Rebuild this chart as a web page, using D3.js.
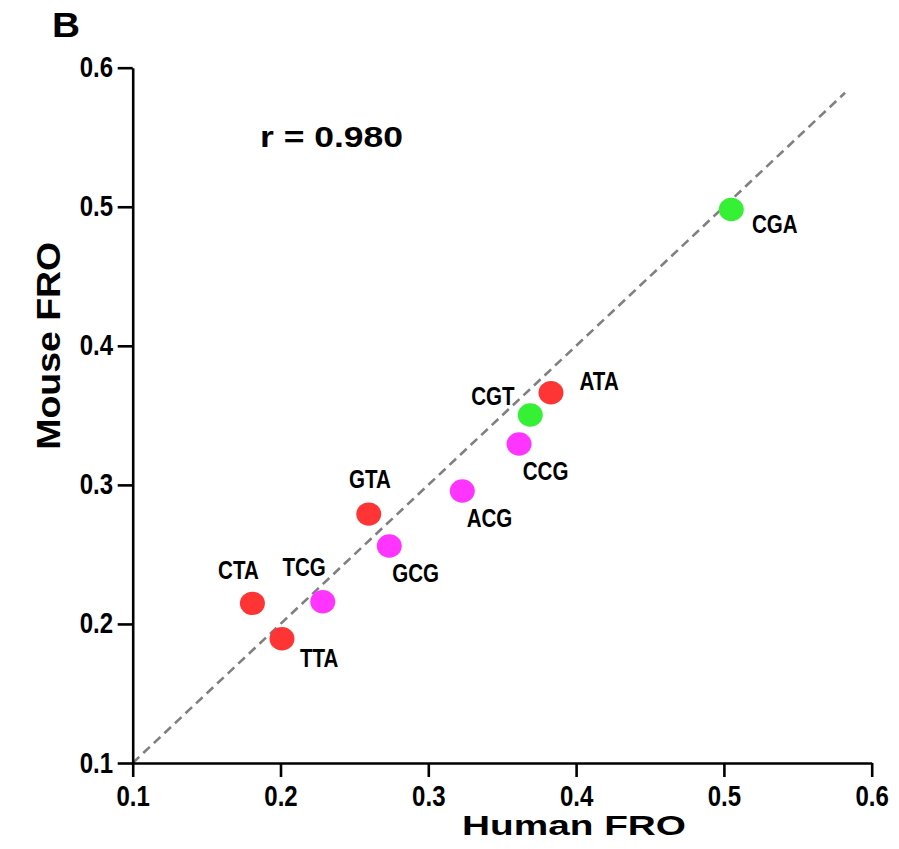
<!DOCTYPE html>
<html>
<head>
<meta charset="utf-8">
<script src="https://cdn.jsdelivr.net/npm/d3@7"></script>
<style>
  html, body { margin: 0; padding: 0; background: #fff; }
  svg { display: block; }
  .narrow, .wide { font-family: "Liberation Sans", Arial, Helvetica, sans-serif; font-weight: bold; }
</style>
</head>
<body>
<svg id="chart" width="899" height="849"></svg>
<script>
// Codon FRO values: human (x) vs mouse (y)
const codons = ["CGA", "ATA", "CGT", "CCG", "ACG", "GTA", "GCG", "TCG", "CTA", "TTA"];
const humanFRO = [0.505, 0.383, 0.369, 0.3614, 0.323, 0.2597, 0.2736, 0.2286, 0.181, 0.201];
const mouseFRO = [0.498, 0.3663, 0.3503, 0.3294, 0.2956, 0.279, 0.256, 0.216, 0.2148, 0.1894];
const groups = ["CpG-TpG", "TpA", "CpG-TpG", "CpG", "CpG", "TpA", "CpG", "CpG", "TpA", "TpA"];
const tickValues = [0.1, 0.2, 0.3, 0.4, 0.5, 0.6];
const identityLine = [0.1, 0.582];
const correlationText = "r = 0.980";

const groupColor = { "TpA": "#ff3535", "CpG": "#ff35ff", "CpG-TpG": "#35f035" };

// label offsets (dx, dy from dot centre) and anchor, per codon
const labelPlacement = {
  CGA: [20.6, 23, "start"],
  ATA: [28.6, -2.7, "start"],
  CGT: [-15.7, -10, "end"],
  CCG: [3.7, 36, "start"],
  ACG: [4.4, 35.7, "start"],
  GTA: [1.3, -25.7, "middle"],
  GCG: [3, 35.7, "start"],
  TCG: [-18.7, -25.7, "middle"],
  CTA: [-14, -24.3, "middle"],
  TTA: [18, 28, "start"]
};

const svg = d3.select("#chart");
const x = d3.scaleLinear().domain([0.1, 0.6]).range([132.7, 871.7]);
const y = d3.scaleLinear().domain([0.1, 0.6]).range([763, 67.7]);

// condense bold text horizontally (narrow face look)
function condense(sel, factor) {
  sel.each(function () {
    const w = this.getComputedTextLength();
    d3.select(this).attr("textLength", w * factor).attr("lengthAdjust", "spacingAndGlyphs");
  });
}

// dashed identity line y = x
svg.append("line")
  .attr("x1", x(identityLine[0])).attr("y1", y(identityLine[0]))
  .attr("x2", x(identityLine[1])).attr("y2", y(identityLine[1]))
  .attr("stroke", "#808080").attr("stroke-width", 2.6)
  .attr("stroke-dasharray", "9,5.5");

// points
const pts = codons.map((c, i) => ({ c, hx: humanFRO[i], my: mouseFRO[i], g: groups[i] }));
svg.append("g").selectAll("ellipse").data(pts).join("ellipse")
  .attr("cx", d => x(d.hx)).attr("cy", d => y(d.my))
  .attr("rx", 12.5).attr("ry", 11.7)
  .attr("fill", d => groupColor[d.g]);

const ptLabels = svg.append("g").selectAll("text").data(pts).join("text")
  .attr("class", "narrow")
  .attr("x", d => x(d.hx) + labelPlacement[d.c][0])
  .attr("y", d => y(d.my) + labelPlacement[d.c][1])
  .attr("text-anchor", d => labelPlacement[d.c][2])
  .attr("font-size", 26)
  .attr("fill", "#000")
  .text(d => d.c);
condense(ptLabels, 0.79);

// axes
const fmt = d3.format(".1f");
const xAxis = svg.append("g").attr("transform", `translate(0,${y(0.1)})`)
  .call(d3.axisBottom(x).tickValues(tickValues).tickFormat(fmt).tickSize(14).tickSizeOuter(0));
const yAxis = svg.append("g").attr("transform", `translate(${x(0.1)},0)`)
  .call(d3.axisLeft(y).tickValues(tickValues).tickFormat(fmt).tickSize(15).tickSizeOuter(0));

[xAxis, yAxis].forEach(a => {
  a.attr("font-family", null).attr("font-size", null);
  a.select(".domain").attr("stroke", "#000").attr("stroke-width", 2.6);
  a.selectAll(".tick line").attr("stroke", "#000").attr("stroke-width", 2.6);
  const t = a.selectAll(".tick text").attr("class", "narrow").attr("font-size", 30).attr("fill", "#000");
  condense(t, 0.8);
});
xAxis.selectAll(".tick text").attr("y", 42.5).attr("dy", null);
yAxis.selectAll(".tick text").attr("x", -19.7).attr("y", 9).attr("dy", null);

// stretched bold text helper
function boldText(txt, px, py, size, len, rotate) {
  const t = svg.append("text").attr("class", "wide")
    .attr("font-size", size).attr("fill", "#000")
    .attr("textLength", len).attr("lengthAdjust", "spacingAndGlyphs")
    .text(txt);
  if (rotate) {
    t.attr("text-anchor", "middle")
     .attr("transform", `translate(${px},${py}) rotate(-90)`);
  } else {
    t.attr("x", px).attr("y", py);
  }
  return t;
}

boldText("B", 52, 37, 35, 28, false);
boldText(correlationText, 260, 146.7, 29, 143, false);
boldText("Human FRO", 462, 835, 28, 224, false);
boldText("Mouse FRO", 60, 345.8, 33, 208, true);
</script>
</body>
</html>
